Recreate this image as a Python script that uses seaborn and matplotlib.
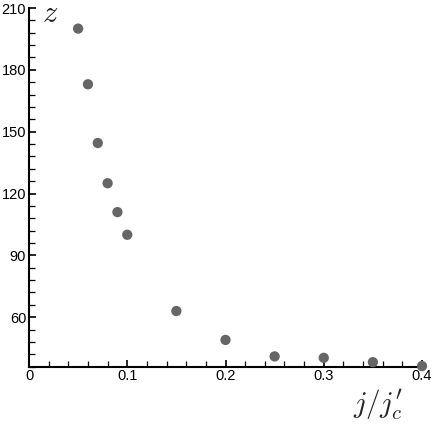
import matplotlib
matplotlib.use('Agg')
import matplotlib.pyplot as plt
import seaborn as sns
import pandas as pd
from matplotlib.ticker import MultipleLocator

# values
current_ratio = [0.05, 0.06, 0.07, 0.08, 0.09, 0.10,
                 0.15, 0.20, 0.25, 0.30, 0.35, 0.40]
z_values = [200, 173, 144.5, 125, 111, 100,
            63, 49, 41, 40.3, 38.2, 36.3]

x_ticks = [0, 0.1, 0.2, 0.3, 0.4]
x_tick_labels = ['0', '0.1', '0.2', '0.3', '0.4']
y_ticks = [60, 90, 120, 150, 180, 210]

sns.set_theme(style="ticks")
plt.rcParams['font.family'] = ['Liberation Sans', 'DejaVu Sans']
plt.rcParams['mathtext.fontset'] = 'cm'

df = pd.DataFrame({'ratio': current_ratio, 'z': z_values})

fig = plt.figure(figsize=(4.36, 4.24), dpi=100)
ax = fig.add_axes([29 / 436, 1 - 366.7 / 424,
                   (422 - 29) / 436, (366.7 - 8) / 424])

sns.scatterplot(data=df, x='ratio', y='z', ax=ax,
                color='#666666', s=55, edgecolor='none',
                clip_on=False, zorder=3)

ax.set_xlim(0, 0.4)
ax.set_ylim(36, 210)
sns.despine(ax=ax)
for side in ['left', 'bottom']:
    ax.spines[side].set_linewidth(1.5)
    ax.spines[side].set_color('black')

ax.set_xticks(x_ticks)
ax.set_xticklabels(x_tick_labels)
ax.set_yticks(y_ticks)
ax.xaxis.set_minor_locator(MultipleLocator(0.02))
ax.yaxis.set_minor_locator(MultipleLocator(6))
ax.tick_params(which='major', direction='in', length=5, width=1.2,
               labelsize=10.5, colors='black', pad=2)
ax.tick_params(which='minor', direction='in', length=4, width=0.9,
               colors='black')
ax.set_xlabel('')
ax.set_ylabel('')

fig.text(50 / 436, 1 - 14 / 424, r'$z$', fontsize=22,
         ha='center', va='center')
fig.text(378 / 436, 1 - 405 / 424, r"$j/j_c'$", fontsize=21,
         ha='center', va='center')

fig.savefig('out.png', dpi=100)
plt.close()
